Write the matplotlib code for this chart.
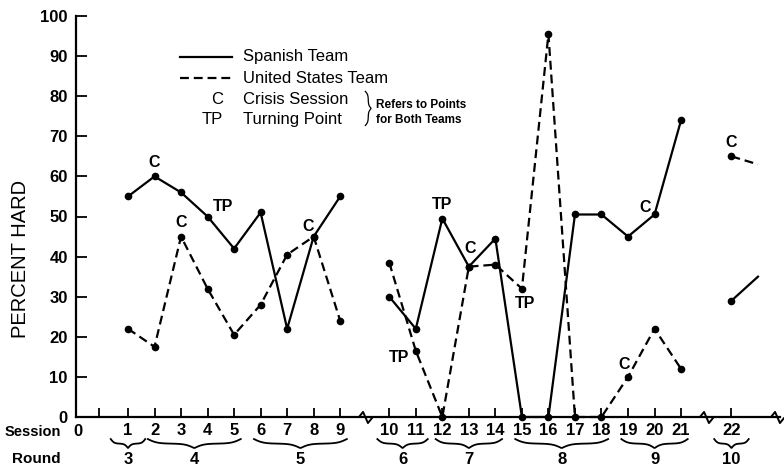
import numpy as np
import matplotlib.pyplot as plt
from matplotlib.path import Path

plt.rcParams['font.family'] = ['Liberation Sans', 'DejaVu Sans']

# percent "hard" statements per session
sessions = [1, 2, 3, 4, 5, 6, 7, 8, 9, 10, 11, 12, 13, 14, 15, 16, 17, 18, 19, 20, 21, 22]
spanish = [55, 60, 56, 50, 42, 51, 22, 45, 55,
           30, 22, 49.5, 37.5, 44.5, 0, 0, 50.5, 50.5, 45, 50.5, 74,
           29]
united_states = [22, 17.5, 45, 32, 20.5, 28, 40.5, 45, 24,
                 38.5, 16.5, 0, 37.5, 38, 32, 95.5, 0, 0, 10, 22, 12,
                 65]
# line runs on past session 22 (no point shown)
tail_session = 23
spanish_tail = 35
us_tail = 63

# continuous stretches, the axis is broken between them
segments = [(1, 9), (10, 21), (22, 23)]

rounds = ['3', '4', '5', '6', '7', '8', '9', '10']
round_sessions = [[1], [2, 3, 4, 5], [6, 7, 8, 9], [10, 11], [12, 13, 14],
                  [15, 16, 17, 18], [19, 20, 21], [22]]

# (team, session, mark)
notes = [('sp', 2, 'C'), ('sp', 4, 'TP'), ('us', 3, 'C'), ('us', 8, 'C'),
         ('sp', 12, 'TP'), ('sp', 13, 'C'), ('us', 15, 'TP'), ('us', 11, 'TP'),
         ('sp', 20, 'C'), ('us', 19, 'C'), ('us', 22, 'C')]
note_offsets = [(0, 10), (11, 7), (0, 10), (-4, 7), (0, 10), (1, 13), (2, -11),
                (-12, -5), (-7, 5), (-3, 9), (0, 10)]


def xpos(s):
    # gaps where the session axis is broken
    return s + 0.85 * (s >= 10) + 0.9 * (s >= 22)


def brace(x0, x1, top, depth, n=80):
    t = np.linspace(0, 1, n)
    half = np.where(t < 0.5, t * 2, (1 - t) * 2)
    f = 1 / (1 + np.exp(-10 * half)) + 1 / (1 + np.exp(-10 * (half - 1)))
    f = (f - f.min()) / (f.max() - f.min())
    return x0 + (x1 - x0) * t, top - depth * f


fig = plt.figure(figsize=(7.84, 4.71), dpi=100)
ax = fig.add_axes([76 / 784, 1 - 417 / 471, 704 / 784, 401 / 471])

all_sp = spanish + [spanish_tail]
all_us = united_states + [us_tail]
all_s = sessions + [tail_session]
dash = (0, (4, 2.2))
for a, b in segments:
    idx = [i for i, s in enumerate(all_s) if a <= s <= b]
    xs = [xpos(all_s[i]) for i in idx]
    marks = [k for k, i in enumerate(idx) if all_s[i] != tail_session]
    ax.plot(xs, [all_sp[i] for i in idx], color='black', lw=1.6,
            marker='o', ms=4.5, markevery=marks, clip_on=False)
    ax.plot(xs, [all_us[i] for i in idx], color='black', lw=1.6, ls=dash,
            marker='o', ms=4.5, markevery=marks, clip_on=False)

for (team, s, mark), off in zip(notes, note_offsets):
    vals = spanish if team == 'sp' else united_states
    v = vals[sessions.index(s)]
    ax.annotate(mark, xy=(xpos(s), v), xytext=off, textcoords='offset points',
                ha='center', va='center', fontsize=11.5, fontweight='bold')

# axes
ax.set_ylim(0, 100)
ax.set_xlim(-0.96, 25.58)
ax.set_yticks(range(0, 101, 10))
ax.set_yticklabels([str(v) for v in range(0, 101, 10)], fontsize=12, fontweight='bold')
ax.set_xticks([-0.1] + [xpos(s) for s in sessions])
ax.set_xticklabels([''] + [str(s) for s in sessions], fontsize=12, fontweight='bold')
ax.tick_params(axis='y', direction='in', length=8, width=1.3, pad=6)
ax.tick_params(axis='x', direction='in', length=6.5, width=1.3, pad=4.5)
for side in ['top', 'right']:
    ax.spines[side].set_visible(False)
for side in ['left', 'bottom']:
    ax.spines[side].set_linewidth(1.6)
ax.set_ylabel('PERCENT HARD', fontsize=14.5)
ax.yaxis.set_label_coords(-0.066, 0.394)

xt = ax.get_xaxis_transform()
ax.text(-0.885, -0.036, '0', transform=xt, ha='center', va='center',
        fontsize=12, fontweight='bold')
ax.text(-0.101, -0.037, 'Session', transform=ax.transAxes, ha='left', va='center',
        fontsize=10.5, fontweight='bold')
ax.text(-0.091, -0.105, 'Round', transform=ax.transAxes, ha='left', va='center',
        fontsize=11, fontweight='bold')

# axis breaks
zig = Path([(-1, 0), (-0.35, 0.8), (0.35, -0.8), (1, 0)],
           [Path.MOVETO, Path.LINETO, Path.LINETO, Path.LINETO])
breaks = [(xpos(9) + xpos(10)) / 2, (xpos(21) + xpos(22)) / 2, 25.45]
ax.plot(breaks, [0] * len(breaks), ls='none', marker=zig, ms=10, mew=1.4,
        mfc='none', mec='black', clip_on=False)

# round braces
for lab, ss in zip(rounds, round_sessions):
    pad = 0.65 if len(ss) == 1 else (0.45 if len(ss) == 2 else 0.25)
    x0, x1 = xpos(ss[0]) - pad, xpos(ss[-1]) + pad
    bx, by = brace(x0, x1, -0.055, 0.022)
    ax.plot(bx, by, color='black', lw=1.3, transform=xt, clip_on=False)
    mid = np.mean([xpos(s) for s in ss])
    ax.text(mid, -0.105, lab, transform=xt, ha='center', va='center',
            fontsize=12, fontweight='bold')

# key
ta = ax.transAxes
ax.plot([0.148, 0.222], [0.898, 0.898], color='black', lw=1.6, transform=ta)
ax.plot([0.148, 0.222], [0.845, 0.845], color='black', lw=1.6, ls=dash, transform=ta)
ax.text(0.237, 0.898, 'Spanish Team', transform=ta, va='center', fontsize=12)
ax.text(0.237, 0.845, 'United States Team', transform=ta, va='center', fontsize=12)
ax.text(0.209, 0.793, 'C', transform=ta, va='center', ha='right', fontsize=12)
ax.text(0.209, 0.743, 'TP', transform=ta, va='center', ha='right', fontsize=12)
ax.text(0.237, 0.793, 'Crisis Session', transform=ta, va='center', fontsize=12)
ax.text(0.237, 0.743, 'Turning Point', transform=ta, va='center', fontsize=12)
by, bx = brace(0.812, 0.727, 0.0, 1.0)
ax.plot(0.411 - 0.008 * bx, by, color='black', lw=0.9, transform=ta)
ax.text(0.426, 0.778, 'Refers to Points', transform=ta, va='center',
        fontsize=8.5, fontweight='bold')
ax.text(0.426, 0.741, 'for Both Teams', transform=ta, va='center',
        fontsize=8.5, fontweight='bold')

fig.savefig('out.png', dpi=100)
